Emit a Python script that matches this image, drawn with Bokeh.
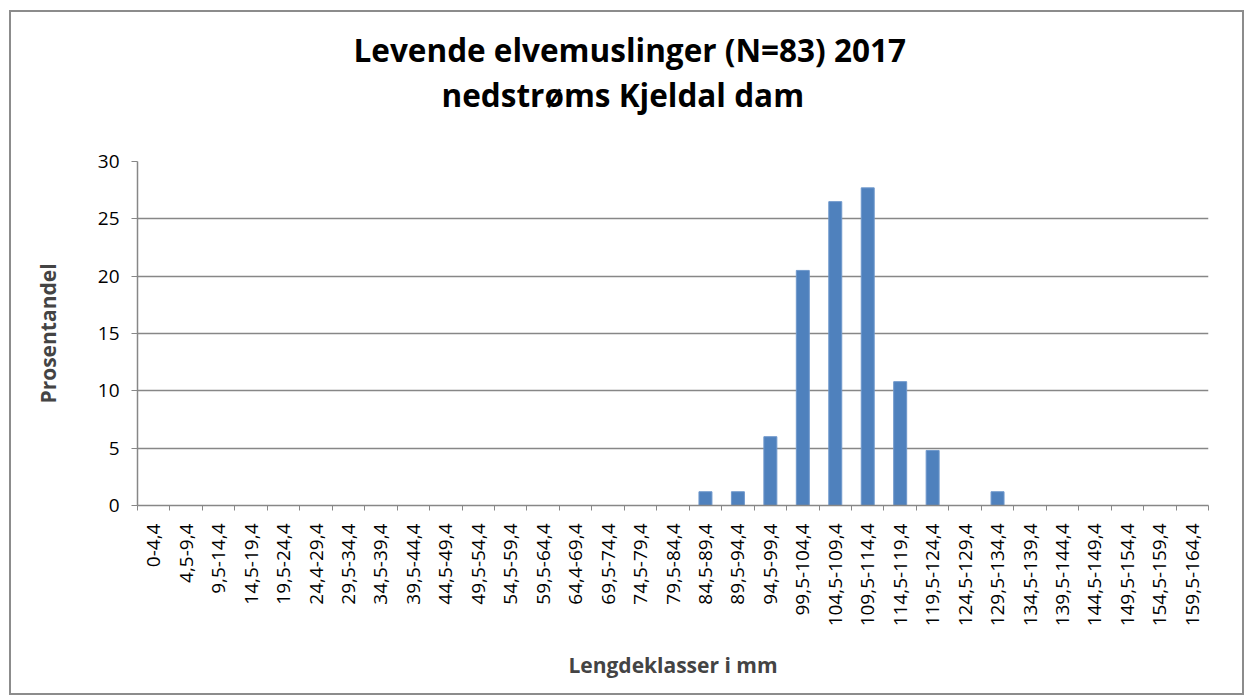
from bokeh.plotting import figure
from bokeh.models import FixedTicker, Title, ColumnDataSource, Range1d
from bokeh.embed import file_html
from bokeh.resources import INLINE

classes = ["0-4,4", "4,5-9,4", "9,5-14,4", "14,5-19,4", "19,5-24,4", "24,4-29,4",
           "29,5-34,4", "34,5-39,4", "39,5-44,4", "44,5-49,4", "49,5-54,4", "54,5-59,4",
           "59,5-64,4", "64,4-69,4", "69,5-74,4", "74,5-79,4", "79,5-84,4", "84,5-89,4",
           "89,5-94,4", "94,5-99,4", "99,5-104,4", "104,5-109,4", "109,5-114,4",
           "114,5-119,4", "119,5-124,4", "124,5-129,4", "129,5-134,4", "134,5-139,4",
           "139,5-144,4", "144,5-149,4", "149,5-154,4", "154,5-159,4", "159,5-164,4"]
percent = [0, 0, 0, 0, 0, 0, 0, 0, 0, 0, 0, 0, 0, 0, 0, 0, 0, 1.2, 1.2, 6.0, 20.5,
           26.5, 27.7, 10.8, 4.8, 0, 1.2, 0, 0, 0, 0, 0, 0]
y_ticks = [0, 5, 10, 15, 20, 25, 30]
title_lines = ["Levende elvemuslinger (N=83) 2017", "nedstrøms Kjeldal dam"]

n = len(classes)
centers = [i + 0.5 for i in range(n)]
bounds = [float(i) for i in range(n + 1)]

src = ColumnDataSource(dict(x=centers, top=percent))

GRAY = "#878787"
FONT = "Open Sans"

p = figure(width=1235, height=685, output_backend="svg", toolbar_location=None,
           x_range=Range1d(0, n), y_range=Range1d(0, 30),
           min_border_left=126, min_border_right=38, min_border_top=149,
           min_border_bottom=192)
p.styles = {"border": "2px solid #8c8c8c", "box-sizing": "border-box",
            "margin-left": "9px", "margin-top": "10px"}
p.outline_line_color = None
p.background_fill_color = "white"
p.border_fill_color = "white"

p.vbar(x="x", top="top", width=0.4, source=src, fill_color="#4F81BD",
       line_color="#6f98cc", line_width=1)

# x axis
xa = p.xaxis[0]
xa.ticker = FixedTicker(ticks=centers, minor_ticks=bounds)
xa.major_label_overrides = {c: lab for c, lab in zip(centers, classes)}
xa.major_label_orientation = 1.5708
xa.major_tick_line_color = None
xa.minor_tick_line_color = GRAY
xa.minor_tick_out = 5
xa.minor_tick_in = 0
xa.axis_line_color = GRAY
xa.axis_line_width = 1.5
xa.major_label_text_font = FONT
xa.major_label_text_font_size = "19px"
xa.major_label_text_color = "black"
xa.major_label_standoff = 12
xa.axis_label = "Lengdeklasser i mm"
xa.axis_label_text_font = FONT
xa.axis_label_text_font_style = "bold"
xa.axis_label_text_font_size = "21px"
xa.axis_label_standoff = 22

# y axis
ya = p.yaxis[0]
ya.ticker = FixedTicker(ticks=y_ticks)
ya.minor_tick_line_color = None
ya.major_tick_line_color = GRAY
ya.major_tick_out = 6
ya.major_tick_in = 0
ya.axis_line_color = GRAY
ya.axis_line_width = 1.5
ya.major_label_text_font = FONT
ya.major_label_text_font_size = "19px"
ya.major_label_text_color = "black"
ya.major_label_standoff = 12
ya.axis_label = "Prosentandel"
ya.axis_label_text_font = FONT
ya.axis_label_text_font_style = "bold"
ya.axis_label_text_font_size = "21px"
ya.axis_label_standoff = 33

p.xgrid.grid_line_color = None
p.ygrid.ticker = FixedTicker(ticks=y_ticks)
p.ygrid.grid_line_color = GRAY
p.ygrid.grid_line_width = 1.5

# title: titles added "above" stack outward from the frame in the order added
p.title = None
p.add_layout(Title(text=" ", text_font_size="1px", standoff=43), "above")  # spacer
p.add_layout(Title(text=title_lines[1], align="left", offset=304, text_font=FONT,
                   text_font_style="bold", text_font_size="31.5px", standoff=0,
                   text_line_height=0.85, text_color="black"), "above")
p.add_layout(Title(text=title_lines[0], align="left", offset=216, text_font=FONT,
                   text_font_style="bold", text_font_size="31.5px", standoff=0,
                   text_line_height=1.0, text_color="black"), "above")

open("out.html", "w").write(file_html(p, INLINE))
